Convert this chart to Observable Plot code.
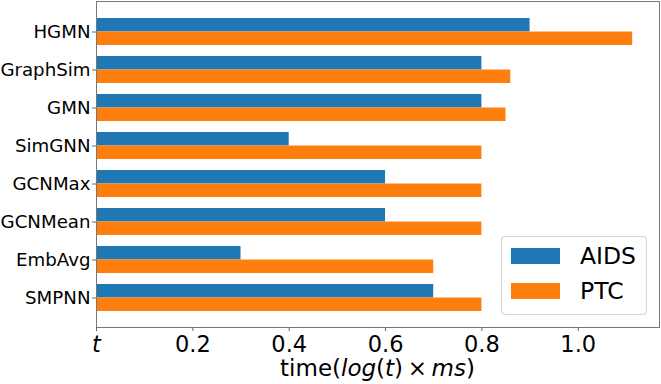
<!DOCTYPE html>
<html>
<head>
<meta charset="utf-8">
<script src="https://cdn.jsdelivr.net/npm/d3@7"></script>
<script src="https://cdn.jsdelivr.net/npm/@observablehq/plot@0.6"></script>
<style>
  html, body { margin: 0; padding: 0; background: white; }
  #wrap { position: relative; width: 661px; height: 384px; font-family: "DejaVu Sans", sans-serif; }
  #legend { position: absolute; left: 501px; top: 236px; width: 146px; height: 79px;
    border: 1px solid rgba(204,204,204,0.8); border-radius: 4px; background: rgba(255,255,255,0.8);
    box-sizing: border-box; }
  .sw { position: absolute; left: 9px; width: 49px; height: 16px; }
  .lt { position: absolute; left: 78px; font-size: 23.5px; line-height: 23.5px; color: #000; }
</style>
</head>
<body>
<div id="wrap"></div>
<script>
const categories = ["HGMN", "GraphSim", "GMN", "SimGNN", "GCNMax", "GCNMean", "EmbAvg", "SMPNN"];
const aids = [0.9, 0.8, 0.8, 0.4, 0.6, 0.6, 0.3, 0.7];
const ptc = [1.113, 0.86, 0.85, 0.8, 0.8, 0.8, 0.7, 0.8];
const series = ["AIDS", "PTC"];
const colors = ["#1f77b4", "#ff7f0e"];
const xTicks = [0, 0.2, 0.4, 0.6, 0.8, 1.0];
const xTickLabels = ["t", "0.2", "0.4", "0.6", "0.8", "1.0"];

const W = 661, H = 384, mL = 96, mR = 2, mT = 1, mB = 57;
const padIn = 0.3, padOut = 0.37;
const step = (H - mT - mB) / (categories.length - padIn + 2 * padOut);
const bw = step * (1 - padIn);

const rows = [];
categories.forEach((c, i) => {
  rows.push({cat: c, series: series[0], value: aids[i]});
  rows.push({cat: c, series: series[1], value: ptc[i]});
});
const xMax = d3.max(rows, d => d.value) * 1.05;

const svg = Plot.plot({
  width: W, height: H,
  marginLeft: mL, marginRight: mR, marginTop: mT, marginBottom: mB,
  style: {fontFamily: "DejaVu Sans", background: "white", color: "black"},
  x: {domain: [0, xMax]},
  y: {type: "band", domain: categories, paddingInner: padIn, paddingOuter: padOut},
  color: {domain: series, range: colors},
  marks: [
    Plot.barX(rows.filter(d => d.series === series[0]), {x: "value", y: "cat", fill: "series", insetBottom: bw / 2}),
    Plot.barX(rows.filter(d => d.series === series[1]), {x: "value", y: "cat", fill: "series", insetTop: bw / 2}),
    Plot.frame({stroke: "#777", strokeWidth: 1}),
    Plot.axisX({ticks: xTicks, tickFormat: d => xTickLabels[xTicks.findIndex(t => Math.abs(t - d) < 1e-9)],
      tickSize: 4, tickPadding: 5, fontSize: 22.5, stroke: "#666", label: null}),
    Plot.axisY({tickSize: 4, tickPadding: 2, fontSize: 18.2, stroke: "#666", label: null})
  ]
});

const s = d3.select(svg);
s.selectAll("text").filter(function() { return this.textContent === "t"; }).style("font-style", "italic");

const lbl = s.append("text")
  .attr("x", (mL + (W - mR)) / 2).attr("y", 376)
  .attr("text-anchor", "middle").attr("font-size", 23).attr("fill", "black")
  .attr("font-family", "DejaVu Sans");
lbl.append("tspan").text("time(");
lbl.append("tspan").attr("font-style", "italic").text("log");
lbl.append("tspan").text("(");
lbl.append("tspan").attr("font-style", "italic").text("t");
lbl.append("tspan").text(")\u2009\u00d7\u2009");
lbl.append("tspan").attr("font-style", "italic").text("ms");
lbl.append("tspan").text(")");

const wrap = document.getElementById("wrap");
wrap.appendChild(svg);

const leg = document.createElement("div");
leg.id = "legend";
series.forEach((name, i) => {
  const sw = document.createElement("div");
  sw.className = "sw";
  sw.style.top = (i === 0 ? 11 : 46) + "px";
  sw.style.background = colors[i];
  leg.appendChild(sw);
  const t = document.createElement("div");
  t.className = "lt";
  t.style.top = (i === 0 ? 8 : 43) + "px";
  t.textContent = name;
  leg.appendChild(t);
});
wrap.appendChild(leg);
</script>
</body>
</html>
